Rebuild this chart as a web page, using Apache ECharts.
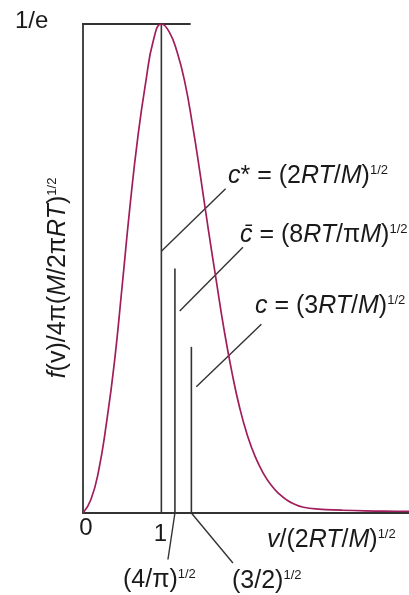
<!DOCTYPE html>
<html>
<head>
<meta charset="utf-8">
<script src="https://cdn.jsdelivr.net/npm/echarts@6/dist/echarts.min.js"></script>
<style>
  html, body { margin: 0; padding: 0; background: #ffffff; }
  #chart { width: 409px; height: 595px; }
</style>
</head>
<body>
<div id="chart"></div>
<script>
// Reduced speed u = v/(2RT/M)^1/2 and the normalised Maxwell distribution along it
const speedU = [0, 0.1, 0.2, 0.3, 0.4, 0.5, 0.6, 0.7, 0.8, 0.9, 1.0, 1.1, 1.2, 1.3, 1.4, 1.5,
  1.6, 1.7, 1.8, 1.9, 2.0, 2.1, 2.2, 2.3, 2.4, 2.5, 2.6, 2.7, 2.8, 3.0, 3.3, 3.6, 4.0, 4.16];
const densityF = [0, 0.010, 0.032, 0.068, 0.113, 0.171, 0.231, 0.283, 0.324, 0.356, 0.3679, 0.362,
  0.347, 0.324, 0.291, 0.253, 0.213, 0.175, 0.138, 0.106, 0.079, 0.058, 0.042, 0.030, 0.021,
  0.0145, 0.0098, 0.0066, 0.0045, 0.0029, 0.0021, 0.0016, 0.0013, 0.0012];

// Peak height 1/e
const peakValue = 0.3679;
const peakLabel = '1/e';

// Characteristic speeds: most probable, mean, root-mean-square
const markerU = [1.0, 1.173, 1.383];
const markerTop = [0.3679, 0.184, 0.125];

// Tick labels along the speed axis
const tickValues = [0, 1];
const tickLabels = ['0', '1'];

const FONT = '"Liberation Sans", Arial, Helvetica, sans-serif';
const INK = '#333333';
const CURVE = '#a11d5c';
const U_MAX = 4.16;

const rich = {
  i: { fontStyle: 'italic', fontSize: 25, fontFamily: FONT, fill: '#1a1a1a', color: '#1a1a1a' },
  s: { fontSize: 13, fontFamily: FONT, verticalAlign: 'top', fill: '#1a1a1a', color: '#1a1a1a' }
};

const chart = echarts.init(document.getElementById('chart'), null, { renderer: 'canvas' });

function seg(a, b, width) {
  return {
    type: 'line', data: [a, b], showSymbol: false, symbol: 'none', clip: false,
    silent: true, animation: false,
    lineStyle: { color: INK, width: width || 1.4 }, z: 3
  };
}

const series = [];
// distribution curve
series.push({
  type: 'line',
  data: speedU.map((u, k) => [u, densityF[k]]),
  smooth: 0.5,
  showSymbol: false, symbol: 'none', animation: false,
  lineStyle: { color: CURVE, width: 1.7 }, z: 4
});
// 1/e reference line across the peak
series.push(seg([-0.323, peakValue], [1.374, peakValue], 1.8));
// vertical markers at the characteristic speeds
markerU.forEach((u, k) => series.push(seg([u, 0], [u, markerTop[k]], 1.6)));
// leaders from the markers to their formulae
series.push(seg([markerU[0], 0.197], [1.82, 0.244]));
series.push(seg([markerU[1] + 0.061, 0.152], [2.041, 0.200]));
series.push(seg([markerU[2] + 0.063, 0.095], [2.276, 0.142]));
// leaders below the axis to the speed labels
series.push(seg([markerU[1], 0], [1.084, -0.035]));
series.push(seg([markerU[2], 0], [1.913, -0.0376]));

chart.setOption({
  backgroundColor: '#ffffff',
  animation: false,
  grid: { left: 83, right: 0, top: 24, bottom: 82, containLabel: false },
  xAxis: {
    type: 'value', min: 0, max: U_MAX,
    axisLine: { show: true, onZero: false, lineStyle: { color: INK, width: 1.8 } },
    axisTick: { show: false }, axisLabel: { show: false }, splitLine: { show: false }
  },
  yAxis: {
    type: 'value', min: 0, max: peakValue,
    axisLine: { show: true, onZero: false, lineStyle: { color: INK, width: 1.8 } },
    axisTick: { show: false }, axisLabel: { show: false }, splitLine: { show: false }
  },
  series: series
});

function text(str, x, y, opts) {
  opts = opts || {};
  return {
    type: 'text', x: x, y: y, rotation: opts.rotation || 0, silent: true, z: 10,
    style: {
      text: str, rich: rich, fill: '#1a1a1a',
      font: (opts.size || 25) + 'px ' + FONT,
      align: opts.align || 'left', textAlign: opts.align || 'left',
      verticalAlign: 'middle', textVerticalAlign: 'middle'
    }
  };
}

const graphics = [];
// peak value label
const peakPx = chart.convertToPixel({ gridIndex: 0 }, [0, peakValue]);
graphics.push(text(peakLabel, 15, peakPx[1] - 3, { size: 24 }));
// speed-axis tick labels
const tickDy = [15, 21];
tickValues.forEach((v, k) => {
  const p = chart.convertToPixel({ gridIndex: 0 }, [v, 0]);
  graphics.push(text(tickLabels[k], p[0] + (k === 0 ? 3 : -1), p[1] + tickDy[k], { size: 24, align: 'center' }));
});
// axis titles
graphics.push(text('{i|v}/(2{i|RT}/{i|M}){s|1/2}', 267, 540));
graphics.push(text('{i|f}(v)/4π({i|M}/2π{i|RT}){s|1/2}', 58, 278, { rotation: Math.PI / 2, align: 'center' }));
// characteristic speed formulae
graphics.push(text('{i|c}* = (2{i|RT}/{i|M}){s|1/2}', 228, 176));
graphics.push(text('{i|c\u0304} = (8{i|RT}/π{i|M}){s|1/2}', 240, 235));
graphics.push(text('{i|c} = (3{i|RT}/{i|M}){s|1/2}', 255, 306));
graphics.push(text('(4/π){s|1/2}', 123, 580));
graphics.push(text('(3/2){s|1/2}', 232, 581));

chart.setOption({ graphic: { elements: graphics } });
</script>
</body>
</html>
